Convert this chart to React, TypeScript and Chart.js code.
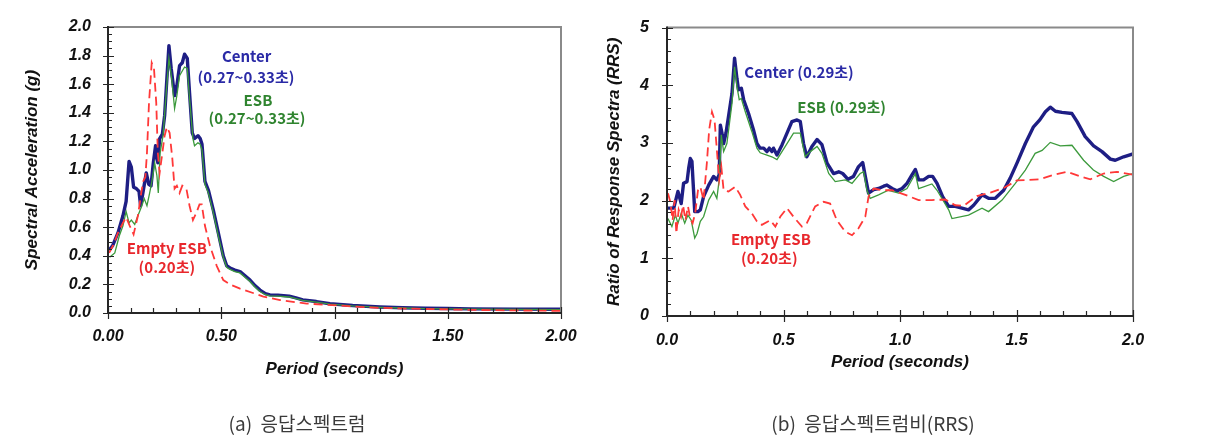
import React, { useEffect, useRef } from "react";
import { Chart, registerables } from "chart.js";

Chart.register(...registerables);

// ---------------- (a) Spectral acceleration (g) ----------------
const saCenterT = [0.005, 0.02, 0.044, 0.066, 0.08, 0.093, 0.103, 0.113, 0.125, 0.137, 0.144, 0.154, 0.169, 0.18, 0.19, 0.2, 0.21, 0.22, 0.228, 0.24, 0.25, 0.26, 0.269, 0.279, 0.294, 0.304, 0.316, 0.328, 0.338, 0.35, 0.36, 0.372, 0.382, 0.397, 0.407, 0.415, 0.428, 0.443, 0.465, 0.487, 0.509, 0.524, 0.539, 0.56, 0.583, 0.605, 0.627, 0.65, 0.671, 0.695, 0.715, 0.75, 0.8, 0.83, 0.86, 0.92, 0.98, 1.08, 1.2, 1.3, 1.4, 1.5, 1.6, 1.8, 2.0];
const saCenterV = [0.44, 0.47, 0.56, 0.68, 0.78, 1.06, 1.02, 0.88, 0.87, 0.85, 0.75, 0.84, 0.98, 0.9, 0.89, 1.05, 1.17, 1.05, 1.22, 1.25, 1.38, 1.64, 1.87, 1.71, 1.52, 1.59, 1.73, 1.75, 1.81, 1.78, 1.54, 1.26, 1.22, 1.24, 1.22, 1.18, 0.92, 0.86, 0.72, 0.56, 0.4, 0.33, 0.315, 0.3, 0.29, 0.26, 0.23, 0.19, 0.16, 0.135, 0.127, 0.125, 0.118, 0.105, 0.092, 0.08, 0.065, 0.052, 0.042, 0.037, 0.033, 0.031, 0.029, 0.027, 0.026];

const saEsbT = [0.007, 0.03, 0.05, 0.066, 0.08, 0.093, 0.103, 0.118, 0.132, 0.147, 0.16, 0.172, 0.184, 0.196, 0.206, 0.216, 0.222, 0.23, 0.243, 0.257, 0.269, 0.281, 0.294, 0.304, 0.316, 0.338, 0.35, 0.36, 0.375, 0.382, 0.397, 0.407, 0.415, 0.428, 0.443, 0.465, 0.487, 0.509, 0.524, 0.539, 0.56, 0.583, 0.605, 0.627, 0.65, 0.671, 0.695, 0.715, 0.75, 0.8, 0.83, 0.86, 0.92, 0.98, 1.08, 1.2, 1.3, 1.4, 1.5, 1.6, 1.8, 2.0];
const saEsbV = [0.39, 0.42, 0.54, 0.61, 0.71, 0.63, 0.65, 0.62, 0.68, 0.74, 0.8, 0.75, 0.84, 0.94, 1.05, 0.96, 0.84, 1.12, 1.24, 1.54, 1.78, 1.64, 1.43, 1.52, 1.66, 1.72, 1.71, 1.5, 1.22, 1.17, 1.19, 1.18, 1.14, 0.9, 0.84, 0.7, 0.54, 0.39, 0.32, 0.305, 0.29, 0.28, 0.25, 0.22, 0.18, 0.15, 0.128, 0.12, 0.118, 0.112, 0.1, 0.088, 0.076, 0.062, 0.05, 0.04, 0.035, 0.031, 0.029, 0.027, 0.025, 0.024];

const saEmptyT = [0.005, 0.022, 0.044, 0.066, 0.08, 0.096, 0.113, 0.132, 0.147, 0.155, 0.165, 0.172, 0.181, 0.193, 0.203, 0.213, 0.22, 0.228, 0.24, 0.25, 0.26, 0.272, 0.284, 0.294, 0.304, 0.316, 0.328, 0.346, 0.36, 0.375, 0.39, 0.404, 0.414, 0.428, 0.45, 0.48, 0.509, 0.539, 0.583, 0.64, 0.686, 0.76, 0.877, 0.99, 1.11, 1.2, 1.4, 1.6, 1.8, 2.0];
const saEmptyV = [0.42, 0.47, 0.56, 0.63, 0.67, 0.61, 0.55, 0.68, 0.84, 0.92, 0.95, 1.12, 1.47, 1.75, 1.71, 1.47, 1.12, 0.98, 1.12, 1.24, 1.3, 1.26, 1.08, 0.87, 0.89, 0.84, 0.89, 0.87, 0.75, 0.65, 0.7, 0.76, 0.76, 0.61, 0.47, 0.33, 0.23, 0.2, 0.17, 0.14, 0.115, 0.09, 0.066, 0.055, 0.043, 0.036, 0.028, 0.022, 0.018, 0.015];

// ---------------- (b) Ratio of response spectra (RRS) ----------------
const rrsCenterT = [0.004, 0.029, 0.047, 0.061, 0.071, 0.086, 0.093, 0.1, 0.107, 0.119, 0.133, 0.143, 0.157, 0.179, 0.2, 0.214, 0.224, 0.229, 0.236, 0.243, 0.253, 0.264, 0.279, 0.29, 0.3, 0.307, 0.319, 0.329, 0.35, 0.371, 0.386, 0.4, 0.415, 0.429, 0.439, 0.45, 0.457, 0.472, 0.494, 0.515, 0.536, 0.558, 0.572, 0.586, 0.6, 0.622, 0.644, 0.665, 0.687, 0.715, 0.737, 0.754, 0.777, 0.8, 0.822, 0.84, 0.851, 0.865, 0.887, 0.908, 0.93, 0.944, 0.966, 0.987, 1.009, 1.03, 1.052, 1.066, 1.08, 1.101, 1.123, 1.14, 1.159, 1.183, 1.209, 1.237, 1.266, 1.294, 1.316, 1.352, 1.38, 1.409, 1.445, 1.473, 1.502, 1.538, 1.573, 1.6, 1.624, 1.645, 1.667, 1.695, 1.738, 1.76, 1.795, 1.831, 1.867, 1.903, 1.924, 1.96, 2.0];
const rrsCenterV = [1.87, 1.87, 2.16, 1.95, 2.3, 2.33, 2.56, 2.73, 2.68, 1.81, 1.81, 1.84, 2.07, 2.27, 2.42, 2.36, 2.45, 3.31, 3.17, 2.99, 3.17, 3.46, 3.86, 4.47, 4.12, 3.92, 3.95, 3.75, 3.51, 3.23, 2.99, 2.91, 2.91, 2.85, 2.91, 2.85, 2.91, 2.79, 2.97, 3.17, 3.37, 3.4, 3.37, 2.99, 2.76, 2.94, 3.06, 2.97, 2.65, 2.47, 2.5, 2.47, 2.37, 2.42, 2.59, 2.66, 2.42, 2.13, 2.19, 2.21, 2.25, 2.27, 2.21, 2.17, 2.21, 2.3, 2.45, 2.54, 2.36, 2.36, 2.42, 2.42, 2.3, 2.07, 1.9, 1.9, 1.87, 1.84, 1.92, 2.1, 2.04, 2.04, 2.18, 2.39, 2.65, 2.99, 3.28, 3.4, 3.54, 3.62, 3.55, 3.53, 3.51, 3.37, 3.11, 2.95, 2.85, 2.72, 2.7, 2.76, 2.81];

const rrsEsbT = [0.004, 0.021, 0.036, 0.047, 0.061, 0.076, 0.09, 0.104, 0.119, 0.129, 0.143, 0.157, 0.179, 0.2, 0.214, 0.224, 0.233, 0.243, 0.257, 0.279, 0.29, 0.3, 0.31, 0.319, 0.336, 0.364, 0.386, 0.4, 0.429, 0.45, 0.472, 0.515, 0.543, 0.572, 0.593, 0.615, 0.644, 0.665, 0.694, 0.722, 0.765, 0.794, 0.829, 0.844, 0.858, 0.872, 0.908, 0.95, 0.994, 1.03, 1.066, 1.08, 1.137, 1.159, 1.209, 1.223, 1.294, 1.352, 1.38, 1.438, 1.495, 1.538, 1.58, 1.61, 1.645, 1.688, 1.738, 1.788, 1.83, 1.874, 1.917, 1.96, 2.0];
const rrsEsbV = [1.69, 1.55, 1.75, 1.61, 1.78, 1.61, 1.75, 1.66, 1.35, 1.43, 1.64, 1.72, 2.01, 2.16, 2.04, 2.36, 3.14, 2.85, 2.99, 3.69, 4.32, 3.98, 3.75, 3.77, 3.54, 3.2, 2.91, 2.83, 2.79, 2.76, 2.71, 2.99, 3.17, 3.17, 2.76, 2.85, 2.94, 2.82, 2.47, 2.33, 2.36, 2.3, 2.47, 2.5, 2.18, 2.04, 2.1, 2.18, 2.13, 2.21, 2.47, 2.21, 2.29, 2.18, 1.84, 1.69, 1.75, 1.87, 1.81, 2.01, 2.3, 2.53, 2.82, 2.87, 3.01, 2.95, 2.96, 2.7, 2.53, 2.42, 2.33, 2.42, 2.47];

const rrsEmptyT = [0.004, 0.014, 0.024, 0.033, 0.04, 0.05, 0.06, 0.069, 0.079, 0.09, 0.1, 0.11, 0.121, 0.133, 0.143, 0.157, 0.171, 0.181, 0.193, 0.204, 0.214, 0.224, 0.233, 0.243, 0.264, 0.293, 0.314, 0.336, 0.364, 0.386, 0.407, 0.443, 0.465, 0.486, 0.515, 0.543, 0.579, 0.6, 0.636, 0.672, 0.7, 0.729, 0.765, 0.794, 0.822, 0.851, 0.865, 0.887, 0.923, 0.966, 1.023, 1.08, 1.137, 1.194, 1.237, 1.273, 1.33, 1.388, 1.445, 1.502, 1.6, 1.66, 1.717, 1.774, 1.817, 1.874, 1.931, 2.0];
const rrsEmptyV = [2.13, 1.98, 1.66, 2.01, 1.43, 1.84, 1.72, 1.92, 1.66, 1.9, 1.69, 1.61, 1.78, 2.18, 2.24, 2.01, 2.65, 3.23, 3.54, 3.4, 2.88, 2.36, 2.59, 2.18, 2.16, 2.24, 2.1, 1.9, 1.78, 1.64, 1.58, 1.66, 1.55, 1.72, 1.87, 1.72, 1.55, 1.61, 1.9, 1.98, 1.95, 1.66, 1.46, 1.4, 1.52, 1.72, 2.07, 2.21, 2.18, 2.18, 2.1, 2.01, 2.01, 2.02, 1.92, 1.91, 2.08, 2.14, 2.22, 2.35, 2.37, 2.45, 2.5, 2.42, 2.37, 2.47, 2.5, 2.45];

// ---------------- labels ----------------
const seriesNames = ["Empty ESB", "ESB", "Center"];
const captionA = "(a)  응답스펙트럼";
const captionB = "(b)  응답스펙트럼비(RRS)";
const titleXA = "Period (seconds)";
const titleYA = "Spectral Acceleration (g)";
const titleXB = "Period (seconds)";
const titleYB = "Ratio of Response Spectra (RRS)";

const C_CENTER = "#1e1e84";
const C_CENTER_TXT = "#2a2aa6";
const C_ESB = "#3c9a3c";
const C_ESB_TXT = "#2f842f";
const C_EMPTY = "#ff3838";
const C_EMPTY_TXT = "#e8272c";

const notesA = [
  { text: "Center", x: 0.612, y: 1.792, color: C_CENTER_TXT, align: "center" },
  { text: "(0.27~0.33초)", x: 0.609, y: 1.65, color: C_CENTER_TXT, align: "center" },
  { text: "ESB", x: 0.662, y: 1.49, color: C_ESB_TXT, align: "center" },
  { text: "(0.27~0.33초)", x: 0.658, y: 1.364, color: C_ESB_TXT, align: "center" },
  { text: "Empty ESB", x: 0.26, y: 0.455, color: C_EMPTY_TXT, align: "center" },
  { text: "(0.20초)", x: 0.26, y: 0.322, color: C_EMPTY_TXT, align: "center" },
];
const notesB = [
  { text: "Center (0.29초)", x: 0.332, y: 4.23, color: C_CENTER_TXT, align: "left" },
  { text: "ESB (0.29초)", x: 0.559, y: 3.61, color: C_ESB_TXT, align: "left" },
  { text: "Empty ESB", x: 0.446, y: 1.335, color: C_EMPTY_TXT, align: "center" },
  { text: "(0.20초)", x: 0.439, y: 1.006, color: C_EMPTY_TXT, align: "center" },
];

const AXIS_FONT = "'Liberation Sans', Arial, sans-serif";
const KR_FONT = "'Noto Sans CJK KR', 'Noto Sans', sans-serif";

function pts(xs: number[], ys: number[]) {
  const n = Math.min(xs.length, ys.length);
  const out: { x: number; y: number }[] = [];
  for (let i = 0; i < n; i++) out.push({ x: xs[i], y: ys[i] });
  return out;
}

function decorPlugin(spec: any) {
  return {
    id: "decor",
    afterDraw(chart: any) {
      const { ctx, chartArea: ca } = chart;
      const xs = chart.scales.x;
      const ys = chart.scales.y;
      ctx.save();
      // frame (top/right grey)
      ctx.lineWidth = 2;
      ctx.strokeStyle = "#8a8a8a";
      ctx.beginPath();
      ctx.moveTo(ca.left, ca.top);
      ctx.lineTo(ca.right, ca.top);
      ctx.lineTo(ca.right, ca.bottom);
      ctx.stroke();
      // axes
      ctx.strokeStyle = "#262626";
      ctx.beginPath();
      ctx.moveTo(ca.left, ca.top - 1);
      ctx.lineTo(ca.left, ca.bottom);
      ctx.lineTo(ca.right + 1, ca.bottom);
      ctx.stroke();
      // ticks
      ctx.lineWidth = 1.2;
      ctx.strokeStyle = "#262626";
      ctx.beginPath();
      const ny = Math.round(spec.yMax / spec.yMinor);
      const yEvery = Math.round(spec.yMajor / spec.yMinor);
      for (let i = 0; i <= ny; i++) {
        const p = Math.round(ys.getPixelForValue(i * spec.yMinor)) + 0.5;
        if (i % yEvery === 0) {
          ctx.moveTo(ca.left - 5, p);
          ctx.lineTo(ca.left + 6, p);
        } else {
          ctx.moveTo(ca.left, p);
          ctx.lineTo(ca.left + 4, p);
        }
      }
      const nx = Math.round(spec.xMax / spec.xMinor);
      const xEvery = Math.round(spec.xMajor / spec.xMinor);
      for (let i = 0; i <= nx; i++) {
        const p = Math.round(xs.getPixelForValue(i * spec.xMinor)) + 0.5;
        if (i % xEvery === 0) {
          ctx.moveTo(p, ca.bottom - 6);
          ctx.lineTo(p, ca.bottom + 6);
        } else {
          ctx.moveTo(p, ca.bottom);
          ctx.lineTo(p, ca.bottom - 5);
        }
      }
      ctx.stroke();
      // annotations
      ctx.font = `bold 15px ${KR_FONT}`;
      ctx.textBaseline = "middle";
      for (const n of spec.notes) {
        ctx.fillStyle = n.color;
        ctx.textAlign = n.align;
        ctx.fillText(n.text, xs.getPixelForValue(n.x), ys.getPixelForValue(n.y));
      }
      ctx.restore();
    },
  };
}

function buildConfig(spec: any): any {
  const tickFont = { family: AXIS_FONT, size: 16, weight: "bold", style: "italic" };
  const titleFont = { family: AXIS_FONT, size: 17, weight: "bold", style: "italic" };
  return {
    type: "line",
    data: {
      datasets: [
        {
          label: seriesNames[0],
          data: pts(spec.emptyT, spec.emptyV),
          borderColor: C_EMPTY,
          borderWidth: 1.8,
          borderDash: [9, 5],
          pointRadius: 0,
          tension: 0,
          fill: false,
        },
        {
          label: seriesNames[1],
          data: pts(spec.esbT, spec.esbV),
          borderColor: C_ESB,
          borderWidth: 1.3,
          pointRadius: 0,
          tension: 0,
          fill: false,
        },
        {
          label: seriesNames[2],
          data: pts(spec.centerT, spec.centerV),
          borderColor: C_CENTER,
          borderWidth: 3.4,
          pointRadius: 0,
          tension: 0,
          fill: false,
          borderJoinStyle: "round",
        },
      ],
    },
    options: {
      responsive: false,
      animation: false,
      maintainAspectRatio: false,
      layout: { padding: spec.padding },
      plugins: { legend: { display: false }, tooltip: { enabled: false } },
      scales: {
        x: {
          type: "linear",
          min: 0,
          max: spec.xMax,
          afterFit: (s: any) => {
            s.height = spec.xAxisHeight;
          },
          grid: { display: false, drawTicks: false },
          border: { display: false },
          ticks: {
            stepSize: spec.xMajor,
            padding: spec.xTickPad,
            color: "#111",
            font: tickFont,
            maxRotation: 0,
            callback: (v: number) => v.toFixed(spec.xDigits),
          },
          title: {
            display: true,
            text: spec.titleX,
            color: "#111",
            font: titleFont,
            padding: { top: 0, bottom: spec.xTitlePad },
          },
        },
        y: {
          type: "linear",
          min: 0,
          max: spec.yMax,
          afterFit: (s: any) => {
            s.width = spec.yAxisWidth;
          },
          grid: { display: false, drawTicks: false },
          border: { display: false },
          ticks: {
            stepSize: spec.yMajor,
            padding: spec.yTickPad,
            color: "#111",
            font: tickFont,
            callback: (v: number) => v.toFixed(spec.yDigits),
          },
          title: {
            display: true,
            text: spec.titleY,
            color: "#111",
            font: titleFont,
            padding: { top: spec.yTitlePad, bottom: 0 },
          },
        },
      },
    },
    plugins: [decorPlugin(spec)],
  };
}

const specA = {
  centerT: saCenterT, centerV: saCenterV,
  esbT: saEsbT, esbV: saEsbV,
  emptyT: saEmptyT, emptyV: saEmptyV,
  xMax: 2, xMajor: 0.5, xMinor: 0.1, xDigits: 2,
  yMax: 2, yMajor: 0.2, yMinor: 0.05, yDigits: 1,
  padding: { left: 0, top: 27, right: 39, bottom: 0 },
  yAxisWidth: 108, xAxisHeight: 130,
  xTickPad: 14, yTickPad: 17, xTitlePad: 63, yTitlePad: 22,
  titleX: titleXA, titleY: titleYA, notes: notesA,
};

const specB = {
  centerT: rrsCenterT, centerV: rrsCenterV,
  esbT: rrsEsbT, esbV: rrsEsbV,
  emptyT: rrsEmptyT, emptyV: rrsEmptyV,
  xMax: 2, xMajor: 0.5, xMinor: 0.1, xDigits: 1,
  yMax: 5, yMajor: 1, yMinor: 0.2, yDigits: 0,
  padding: { left: 0, top: 27, right: 76, bottom: 0 },
  yAxisWidth: 67, xAxisHeight: 127,
  xTickPad: 15, yTickPad: 18, xTitlePad: 70, yTitlePad: 4,
  titleX: titleXB, titleY: titleYB, notes: notesB,
};

export default function App() {
  const refA = useRef<HTMLCanvasElement>(null);
  const refB = useRef<HTMLCanvasElement>(null);
  useEffect(() => {
    const a = new Chart(refA.current as HTMLCanvasElement, buildConfig(specA));
    const b = new Chart(refB.current as HTMLCanvasElement, buildConfig(specB));
    return () => {
      a.destroy();
      b.destroy();
    };
  }, []);
  const capStyle: React.CSSProperties = {
    position: "absolute",
    top: 408,
    height: 30,
    lineHeight: "30px",
    textAlign: "center",
    fontFamily: KR_FONT,
    fontSize: 19,
    color: "#3a3a3a",
    whiteSpace: "pre",
  };
  return (
    <div style={{ position: "absolute", left: 0, top: 0, width: 1209, height: 443, background: "#fff", overflow: "hidden" }}>
      <canvas ref={refA} width={600} height={443} style={{ position: "absolute", left: 0, top: 0, width: 600, height: 443 }} />
      <canvas ref={refB} width={609} height={443} style={{ position: "absolute", left: 600, top: 0, width: 609, height: 443 }} />
      <div style={{ ...capStyle, left: 197, width: 200 }}>{captionA}</div>
      <div style={{ ...capStyle, left: 723, width: 300 }}>{captionB}</div>
    </div>
  );
}
